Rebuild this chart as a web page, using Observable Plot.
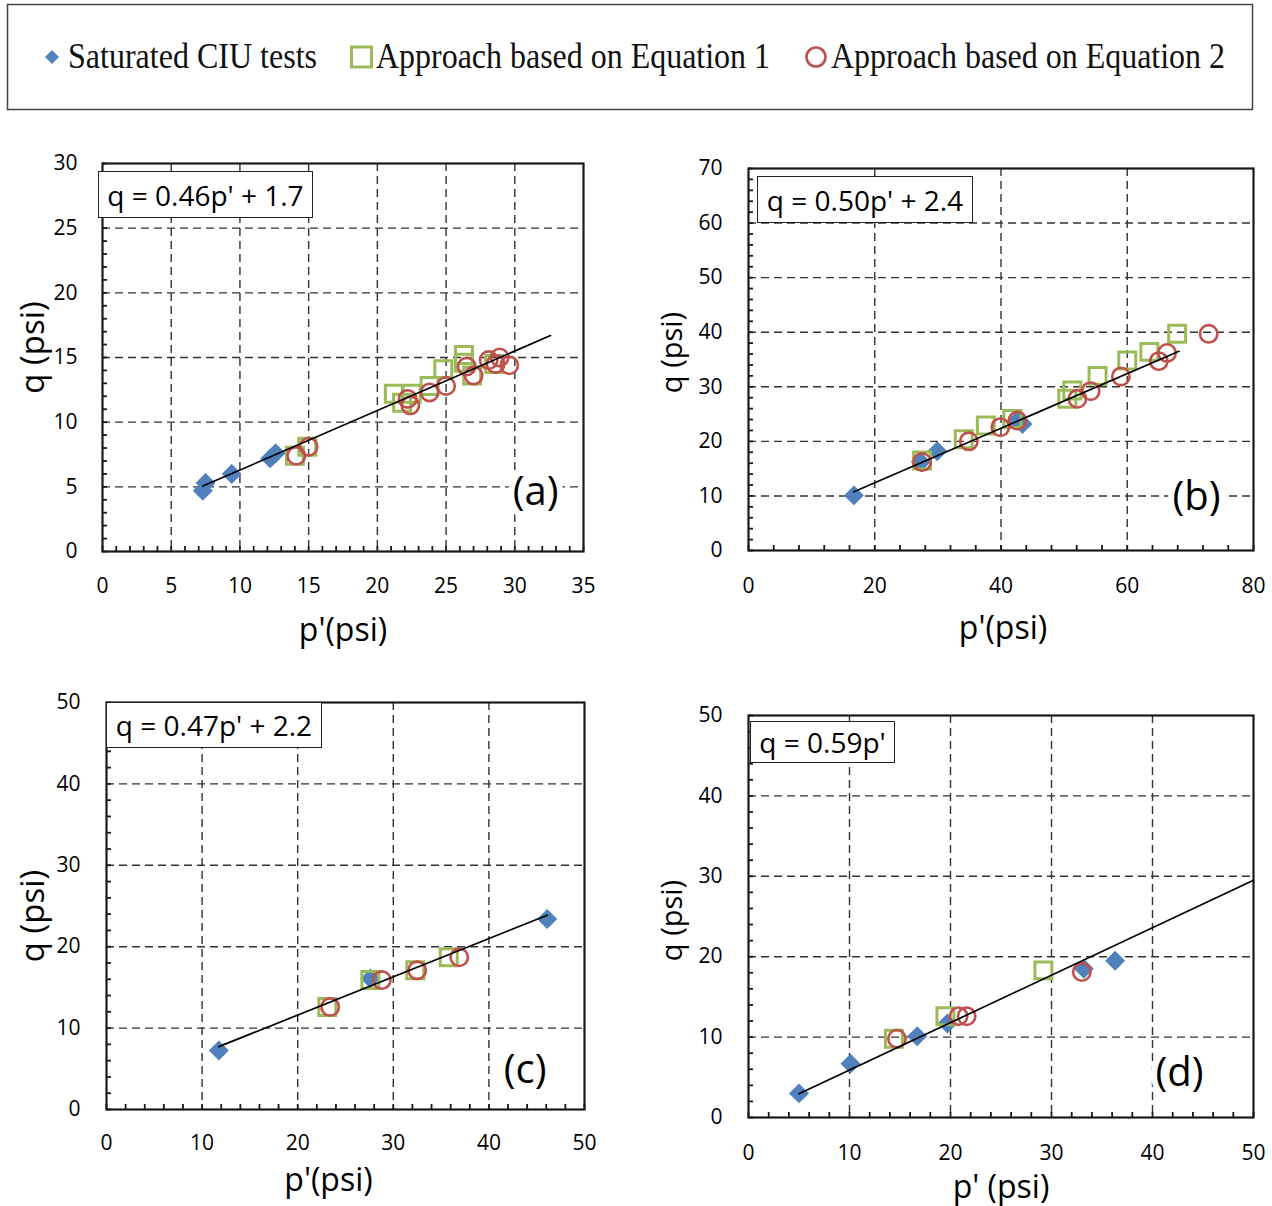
<!DOCTYPE html>
<html><head><meta charset="utf-8">
<script src="https://cdn.jsdelivr.net/npm/d3@7"></script>
<script src="https://cdn.jsdelivr.net/npm/@observablehq/plot@0.6"></script>
<style>
html,body{margin:0;padding:0;background:#fff;}
#page{position:relative;width:1272px;height:1206px;overflow:hidden;background:#fff;}
.panel{position:absolute;}
.eq{position:absolute;box-sizing:border-box;border:1.6px solid #222;background:#fff;font-family:"Open Sans",sans-serif;font-size:28px;display:flex;align-items:center;justify-content:center;color:#000;white-space:nowrap;}
</style></head><body><div id="page"></div>
<script>
// ---------- DATA ----------
const legendLabels = ["Saturated CIU tests", "Approach based on Equation 1", "Approach based on Equation 2"];

// Panel (a)
const satA_p = [7.3, 7.5, 9.4, 12.2, 12.6];
const satA_q = [4.7, 5.3, 6.0, 7.2, 7.6];
const eq1A_p = [14.0, 14.9, 21.2, 21.8, 22.5, 23.8, 24.8, 26.3, 26.3, 26.9, 28.5];
const eq1A_q = [7.4, 8.1, 12.2, 11.5, 12.2, 12.8, 14.1, 14.6, 15.2, 13.6, 14.5];
const eq2A_p = [14.1, 15.0, 22.2, 22.4, 23.8, 25.0, 26.5, 27.0, 28.1, 28.6, 28.9, 29.6];
const eq2A_q = [7.4, 8.1, 11.8, 11.3, 12.3, 12.8, 14.3, 13.6, 14.8, 14.5, 15.0, 14.4];
const fitA = {slope: 0.46, intercept: 1.7, from: 7.3, to: 32.6, label: "q = 0.46p' + 1.7"};
const xTicksA = [0, 5, 10, 15, 20, 25, 30, 35];
const yTicksA = [0, 5, 10, 15, 20, 25, 30];

// Panel (b)
const satB_p = [16.7, 27.3, 29.9, 42.6, 43.4];
const satB_q = [10.1, 16.2, 18.2, 23.8, 23.2];
const eq1B_p = [27.5, 34.1, 37.6, 41.8, 50.5, 51.3, 55.3, 60.0, 63.5, 67.9];
const eq1B_q = [16.5, 20.4, 22.9, 24.1, 27.8, 29.3, 32.0, 34.8, 36.4, 39.7];
const eq2B_p = [27.5, 34.9, 39.9, 42.6, 52.1, 54.2, 59.0, 65.0, 66.3, 72.9];
const eq2B_q = [16.2, 20.0, 22.6, 23.8, 27.8, 29.2, 31.9, 34.7, 36.2, 39.7];
const fitB = {slope: 0.50, intercept: 2.4, from: 16.7, to: 68.2, label: "q = 0.50p' + 2.4"};
const xTicksB = [0, 20, 40, 60, 80];
const yTicksB = [0, 10, 20, 30, 40, 50, 60, 70];

// Panel (c)
const satC_p = [11.75, 27.6, 46.1];
const satC_q = [7.25, 16.1, 23.4];
const eq1C_p = [23.1, 27.6, 32.3, 35.8];
const eq1C_q = [12.6, 15.9, 17.1, 18.7];
const eq2C_p = [23.4, 28.8, 32.5, 36.9];
const eq2C_q = [12.6, 15.9, 17.1, 18.7];
const fitC = {slope: 0.47, intercept: 2.2, from: 11.75, to: 46.1, label: "q = 0.47p' + 2.2"};
const xTicksC = [0, 10, 20, 30, 40, 50];
const yTicksC = [0, 10, 20, 30, 40, 50];

// Panel (d)
const satD_p = [5.0, 10.1, 16.7, 19.7, 33.2, 36.3];
const satD_q = [3.0, 6.7, 10.1, 11.7, 18.5, 19.5];
const eq1D_p = [14.4, 19.5, 29.2];
const eq1D_q = [9.8, 12.6, 18.3];
const eq2D_p = [14.7, 20.8, 21.6, 33.0];
const eq2D_q = [9.8, 12.6, 12.6, 18.1];
const fitD = {slope: 0.59, intercept: 0, from: 5.0, to: 50, label: "q = 0.59p'"};
const xTicksD = [0, 10, 20, 30, 40, 50];
const yTicksD = [0, 10, 20, 30, 40, 50];

// ---------- STYLE / LAYOUT ----------
const BLUE = "#4F81BD", GREEN = "#9BBB59", RED = "#C0504D";
const FONT = '"Open Sans", sans-serif';
const page = document.getElementById("page");

// Legend
(function legend() {
  const svg = d3.create("svg").attr("width", 1272).attr("height", 120)
    .style("position", "absolute").style("left", "0px").style("top", "0px");
  svg.append("rect").attr("x", 7.5).attr("y", 4.5).attr("width", 1245).attr("height", 105)
    .attr("fill", "#fff").attr("stroke", "#444").attr("stroke-width", 1.5);
  svg.append("path").attr("d", "M52,50L59,57L52,64L45,57Z").attr("fill", BLUE);
  svg.append("rect").attr("x", 351.5).attr("y", 47).attr("width", 20).attr("height", 20)
    .attr("fill", "none").attr("stroke", GREEN).attr("stroke-width", 3);
  svg.append("circle").attr("cx", 816).attr("cy", 57).attr("r", 9.5)
    .attr("fill", "none").attr("stroke", RED).attr("stroke-width", 2.6);
  const tx = [[68, 249], [376, 394], [831, 394]];
  legendLabels.forEach((t, i) => {
    svg.append("text").attr("x", tx[i][0]).attr("y", 68)
      .attr("font-family", '"Liberation Serif", "Times New Roman", serif').attr("font-size", 35)
      .attr("textLength", tx[i][1]).attr("lengthAdjust", "spacingAndGlyphs")
      .attr("fill", "#111").text(t);
  });
  page.appendChild(svg.node());
})();

const rows = (ps, qs) => ps.map((p, i) => ({p, q: qs[i]}));

const panels = [
  {tag: "(a)", box: [0, 130, 630, 540], frame: [102, 583, 163, 551],
   xd: [0, 35], yd: [0, 30], xt: xTicksA, yt: yTicksA, xm: 1, ym: 1,
   sat: rows(satA_p, satA_q), e1: rows(eq1A_p, eq1A_q), e2: rows(eq2A_p, eq2A_q), fit: fitA,
   xPad: 27, yPad: 25, xTitle: "p'(psi)", xtSize: 32, xtDx: 0, xtDy: 79,
   yTitle: "q (psi)", ytSize: 33, ytDx: -69, ytDy: -10,
   tagDx: -25, tagDy: -59, eqBox: [98, 171, 215, 47]},
  {tag: "(b)", box: [636, 130, 636, 540], frame: [748, 1253, 168, 550],
   xd: [0, 80], yd: [0, 70], xt: xTicksB, yt: yTicksB, xm: 4, ym: 2,
   sat: rows(satB_p, satB_q), e1: rows(eq1B_p, eq1B_q), e2: rows(eq2B_p, eq2B_q), fit: fitB,
   xPad: 28, yPad: 26, xTitle: "p'(psi)", xtSize: 32, xtDx: 2, xtDy: 78,
   yTitle: "q (psi)", ytSize: 29, ytDx: -76, ytDy: -7,
   tagDx: -33, tagDy: -53, eqBox: [757, 176, 216, 47]},
  {tag: "(c)", box: [0, 670, 630, 536], frame: [106, 584, 702, 1109],
   xd: [0, 50], yd: [0, 50], xt: xTicksC, yt: yTicksC, xm: 2, ym: 2,
   sat: rows(satC_p, satC_q), e1: rows(eq1C_p, eq1C_q), e2: rows(eq2C_p, eq2C_q), fit: fitC,
   xPad: 26, yPad: 26, xTitle: "p'(psi)", xtSize: 32, xtDx: -17, xtDy: 71,
   yTitle: "q (psi)", ytSize: 33, ytDx: -73, ytDy: 10,
   tagDx: -38, tagDy: -39, eqBox: [106, 702, 216, 46]},
  {tag: "(d)", box: [636, 670, 636, 536], frame: [748, 1253, 715, 1117],
   xd: [0, 50], yd: [0, 50], xt: xTicksD, yt: yTicksD, xm: 2, ym: 2,
   sat: rows(satD_p, satD_q), e1: rows(eq1D_p, eq1D_q), e2: rows(eq2D_p, eq2D_q), fit: fitD,
   xPad: 28, yPad: 26, xTitle: "p' (psi)", xtSize: 32, xtDx: 0, xtDy: 70,
   yTitle: "q (psi)", ytSize: 29, ytDx: -76, ytDy: 4,
   tagDx: -50, tagDy: -44, eqBox: [750, 721, 145, 42]}
];

for (const c of panels) {
  const [L, T, W, H] = c.box;
  const [x0, x1, y0, y1] = c.frame;
  const pw = x1 - x0, ph = y1 - y0;
  const inner = (arr) => arr.slice(1, -1);
  const xMinor = d3.range(0, c.xd[1] + 1e-9, c.xm);
  const yMinor = d3.range(0, c.yd[1] + 1e-9, c.ym);
  const trend = [c.fit.from, c.fit.to].map(p => ({p, q: c.fit.slope * p + c.fit.intercept}));
  const chart = Plot.plot({
    width: W, height: H,
    marginLeft: x0 - L, marginRight: L + W - x1, marginTop: y0 - T, marginBottom: T + H - y1,
    x: {domain: c.xd}, y: {domain: c.yd},
    style: {fontFamily: FONT, fontSize: "21px", color: "#000", background: "transparent", overflow: "visible"},
    marks: [
      Plot.gridX(inner(c.xt), {stroke: "#333", strokeOpacity: 1, strokeWidth: 1.4, strokeDasharray: "8,5"}),
      Plot.gridY(inner(c.yt), {stroke: "#333", strokeOpacity: 1, strokeWidth: 1.4, strokeDasharray: "8,5"}),
      Plot.tickX(xMinor, {x: d => d, insetTop: ph - 5, stroke: "#1a1a1a", strokeWidth: 1.8}),
      Plot.tickY(yMinor, {y: d => d, insetRight: pw - 5, stroke: "#1a1a1a", strokeWidth: 1.8}),
      Plot.frame({stroke: "#1a1a1a", strokeWidth: 2.2}),
      Plot.axisX({ticks: c.xt, tickSize: 0, tickPadding: c.xPad, label: null, tickFormat: d => String(d)}),
      Plot.axisY({ticks: c.yt, tickSize: 0, tickPadding: c.yPad, label: null, tickFormat: d => String(d)}),
      Plot.dot(c.sat, {x: "p", y: "q", symbol: "diamond2", r: 9, fill: BLUE, stroke: "none"}),
      Plot.dot(c.e1, {x: "p", y: "q", symbol: "square2", r: 10.8, fill: "none", stroke: GREEN, strokeWidth: 3}),
      Plot.dot(c.e2, {x: "p", y: "q", symbol: "circle", r: 8.7, fill: "none", stroke: RED, strokeWidth: 2.6}),
      Plot.line(trend, {x: "p", y: "q", stroke: "#000", strokeWidth: 1.7}),
      Plot.text([c.tag], {text: d => d, frameAnchor: "bottom-right", dx: c.tagDx, dy: c.tagDy,
        textAnchor: "end", lineAnchor: "middle", fontSize: 40, fill: "#000", stroke: "#fff", strokeWidth: 12}),
      Plot.text([c.xTitle], {text: d => d, frameAnchor: "bottom", dx: c.xtDx, dy: c.xtDy,
        textAnchor: "middle", lineAnchor: "middle", fontSize: c.xtSize, fill: "#000"}),
      Plot.text([c.yTitle], {text: d => d, frameAnchor: "left", rotate: -90, dx: c.ytDx, dy: c.ytDy,
        textAnchor: "middle", lineAnchor: "middle", fontSize: c.ytSize, fill: "#000"})
    ]
  });
  const wrap = document.createElement("div");
  wrap.className = "panel";
  wrap.style.left = L + "px"; wrap.style.top = T + "px";
  wrap.appendChild(chart);
  page.appendChild(wrap);
  const eq = document.createElement("div");
  eq.className = "eq";
  const [bx, by, bw, bh] = c.eqBox;
  eq.style.left = bx + "px"; eq.style.top = by + "px"; eq.style.width = bw + "px"; eq.style.height = bh + "px";
  eq.textContent = c.fit.label;
  page.appendChild(eq);
}
</script></body></html>
